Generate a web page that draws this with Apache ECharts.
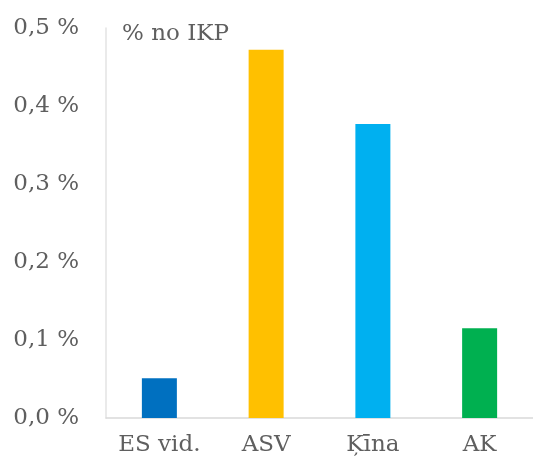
<!DOCTYPE html>
<html>
<head>
<meta charset="utf-8">
<script src="https://cdn.jsdelivr.net/npm/echarts@6/dist/echarts.min.js"></script>
<style>
    html, body { margin: 0; padding: 0; background: #fff; }
    #chart { width: 533px; height: 466px; }
</style>
</head>
<body>
<div id="chart"></div>
<script>
// dati
var categories = ['ES vid.', 'ASV', 'Ķīna', 'AK'];
var values = [0.051, 0.472, 0.377, 0.115];
var unitLabel = '% no IKP';

var barColors = ['#0070C0', '#FFC000', '#00B0F0', '#00B050'];
var textColor = '#5f5f5f';
var fontFamily = '"DejaVu Serif", serif';

var chart = echarts.init(document.getElementById('chart'));

chart.setOption({
    animation: false,
    title: {
        text: unitLabel,
        left: 122,
        top: 23,
        padding: 0,
        textStyle: {
            fontFamily: fontFamily,
            fontWeight: 'normal',
            fontSize: 23,
            color: textColor
        }
    },
    grid: {
        left: 106,
        right: -3,
        top: 28,
        bottom: 48,
        containLabel: false
    },
    xAxis: {
        type: 'category',
        data: categories,
        axisLine: { lineStyle: { color: '#d9d9d9', width: 1.5 } },
        axisTick: { show: false },
        axisLabel: {
            interval: 0,
            margin: 16,
            fontFamily: fontFamily,
            fontSize: 23,
            color: textColor
        }
    },
    yAxis: {
        type: 'value',
        min: 0,
        max: 0.5,
        interval: 0.1,
        axisLine: { show: true, lineStyle: { color: '#e3e3e3', width: 1.5 } },
        axisTick: { show: false },
        splitLine: { show: false },
        axisLabel: {
            margin: 27,
            fontFamily: fontFamily,
            fontSize: 23,
            color: textColor,
            formatter: function (v) {
                return v.toFixed(1).replace('.', ',') + ' %';
            }
        }
    },
    series: [{
        type: 'bar',
        barWidth: 35,
        data: values.map(function (v, i) {
            return { value: v, itemStyle: { color: barColors[i] } };
        })
    }]
});
</script>
</body>
</html>
